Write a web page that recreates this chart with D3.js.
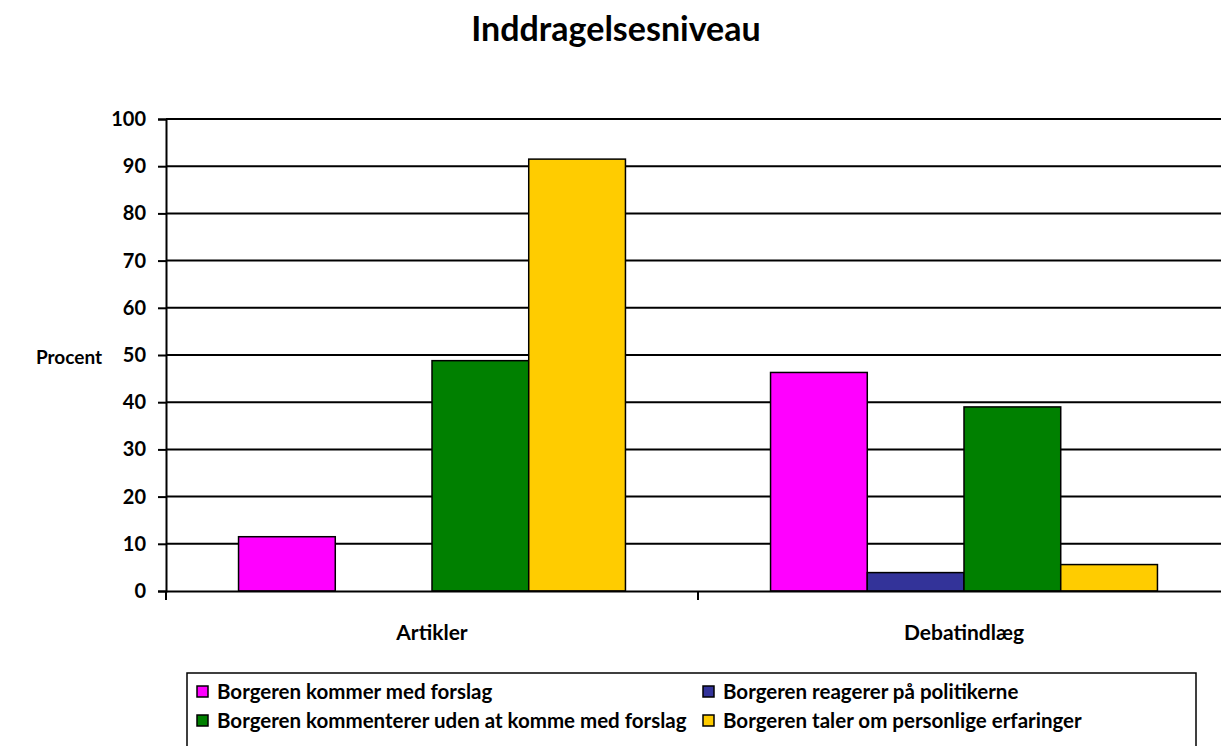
<!DOCTYPE html>
<html>
<head>
<meta charset="utf-8">
<script src="https://cdn.jsdelivr.net/npm/d3@7"></script>
<style>
  body { margin: 0; background: #fff; }
  text { font-family: Lato, "Open Sans", sans-serif; font-weight: bold; fill: #000; }
</style>
</head>
<body>
<div id="chart"></div>
<script>
// data
const categories = ["Artikler", "Debatindlæg"];
const seriesNames = [
  "Borgeren kommer med forslag",
  "Borgeren reagerer på politikerne",
  "Borgeren kommenterer uden at komme med forslag",
  "Borgeren taler om personlige erfaringer"
];
const seriesColors = ["#FF00FF", "#333399", "#008000", "#FFCC00"];
// values per series, one entry per category (null = no bar)
const forslag = [11.5, 46.3];
const reagerer = [null, 3.9];
const kommenterer = [48.8, 39.0];
const erfaringer = [91.5, 5.6];
const yTicks = [0, 10, 20, 30, 40, 50, 60, 70, 80, 90, 100];

const allSeries = [forslag, reagerer, kommenterer, erfaringer];

const width = 1221, height = 746;
const svg = d3.select("#chart").append("svg")
  .attr("width", width)
  .attr("height", height);

const plotLeft = 166, plotRight = 1230, plotTop = 119, plotBottom = 591;

const x0 = d3.scaleBand().domain(categories).range([plotLeft, plotRight]).paddingInner(0).paddingOuter(0);
const x1 = d3.scaleBand().domain(d3.range(seriesNames.length)).range([0, x0.bandwidth()]).paddingInner(0).paddingOuter(0.75);
const y = d3.scaleLinear().domain([0, 100]).range([plotBottom, plotTop]);

// title
svg.append("text")
  .attr("x", 616).attr("y", 41)
  .attr("text-anchor", "middle")
  .style("font-size", "34px")
  .text("Inddragelsesniveau");

// gridlines
svg.append("g").selectAll("line")
  .data(yTicks.filter(d => d > 0))
  .enter().append("line")
  .attr("x1", plotLeft).attr("x2", plotRight)
  .attr("y1", d => y(d)).attr("y2", d => y(d))
  .attr("stroke", "#000").attr("stroke-width", 2);

// y axis
const yAxis = svg.append("g")
  .attr("transform", `translate(${plotLeft},0)`)
  .call(d3.axisLeft(y).tickValues(yTicks).tickSize(8).tickPadding(12));
yAxis.select(".domain").attr("stroke-width", 2);
yAxis.selectAll(".tick line").attr("stroke-width", 2);
yAxis.selectAll("text").style("font-size", "20px");

svg.append("text")
  .attr("x", 69).attr("y", 364)
  .attr("text-anchor", "middle")
  .style("font-size", "19px")
  .text("Procent");

// bars
const groups = svg.append("g").selectAll("g")
  .data(categories)
  .enter().append("g")
  .attr("transform", d => `translate(${x0(d)},0)`);

groups.selectAll("rect")
  .data((c, ci) => allSeries.map((s, si) => ({ si: si, v: s[ci] })).filter(d => d.v != null))
  .enter().append("rect")
  .attr("x", d => x1(d.si))
  .attr("width", x1.bandwidth())
  .attr("y", d => y(d.v))
  .attr("height", d => plotBottom - y(d.v))
  .attr("fill", d => seriesColors[d.si])
  .attr("stroke", "#000")
  .attr("stroke-width", 1.5);

// x axis
const xAxis = svg.append("g")
  .attr("transform", `translate(0,${plotBottom})`)
  .call(d3.axisBottom(x0).tickSize(0).tickPadding(34));
xAxis.select(".domain").attr("stroke-width", 2);
xAxis.selectAll("text").style("font-size", "21px");
// category separator ticks
svg.append("g").selectAll("line")
  .data([plotLeft, x0(categories[1])])
  .enter().append("line")
  .attr("x1", d => d).attr("x2", d => d)
  .attr("y1", plotBottom).attr("y2", plotBottom + 9)
  .attr("stroke", "#000").attr("stroke-width", 2);

// legend
const legend = svg.append("g");
legend.append("rect")
  .attr("x", 187).attr("y", 673)
  .attr("width", 1009).attr("height", 80)
  .attr("fill", "#fff").attr("stroke", "#000").attr("stroke-width", 1.5);

const legendPos = [[197, 692], [703, 692], [197, 721], [703, 721]];
const items = legend.selectAll("g.item")
  .data(seriesNames)
  .enter().append("g")
  .attr("transform", (d, i) => `translate(${legendPos[i][0]},${legendPos[i][1]})`);
items.append("rect")
  .attr("x", 0).attr("y", -6)
  .attr("width", 11).attr("height", 11)
  .attr("fill", (d, i) => seriesColors[i])
  .attr("stroke", "#000").attr("stroke-width", 1.5);
items.append("text")
  .attr("x", 20).attr("y", 0)
  .attr("dy", "0.35em")
  .style("font-size", "20.5px")
  .text(d => d);
</script>
</body>
</html>
